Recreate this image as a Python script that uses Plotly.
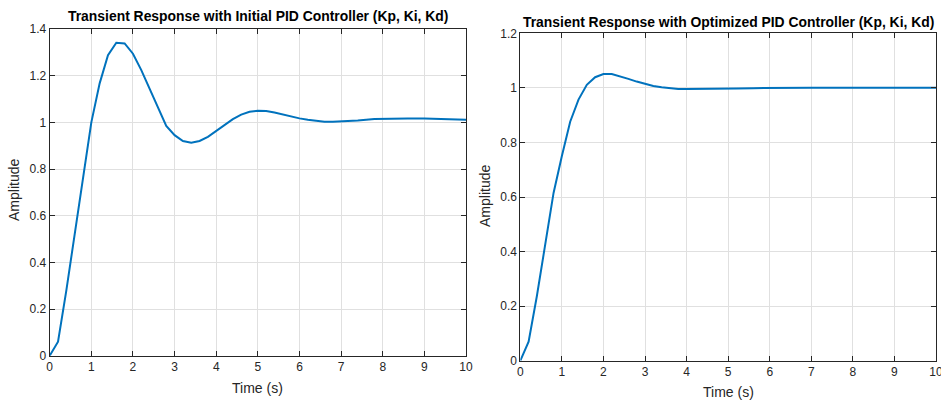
import plotly.graph_objects as go

# ---- data ----
t_initial = [0, 0.2, 0.4, 0.6, 0.8, 1.0, 1.2, 1.4, 1.6, 1.8, 2.0, 2.2, 2.4, 2.6, 2.8, 3.0,
             3.2, 3.4, 3.6, 3.8, 4.0, 4.2, 4.4, 4.6, 4.8, 5.0, 5.2, 5.4, 5.6, 5.8, 6.0,
             6.2, 6.4, 6.6, 6.8, 7.0, 7.4, 7.8, 8.2, 8.6, 9.0, 9.4, 9.8, 10.0]
y_initial = [0, 0.06, 0.28, 0.51, 0.76, 1.0, 1.167, 1.288, 1.341, 1.338, 1.294, 1.224, 1.146, 1.062, 0.985, 0.945,
             0.920, 0.913, 0.920, 0.938, 0.963, 0.990, 1.014, 1.033, 1.045, 1.050, 1.049, 1.042, 1.033, 1.024, 1.017,
             1.011, 1.006, 1.003, 1.003, 1.004, 1.008, 1.014, 1.017, 1.017, 1.016, 1.014, 1.012, 1.011]

t_optimized = [0, 0.2, 0.4, 0.6, 0.8, 1.0, 1.2, 1.4, 1.6, 1.8, 2.0, 2.2, 2.4, 2.6, 2.8, 3.0,
               3.2, 3.4, 3.6, 3.8, 4.0, 4.4, 4.8, 5.2, 5.6, 6.0, 7.0, 8.0, 9.0, 10.0]
y_optimized = [0, 0.07, 0.238, 0.422, 0.615, 0.75, 0.876, 0.957, 1.011, 1.039, 1.051, 1.051, 1.043, 1.033, 1.023, 1.014,
               1.007, 1.002, 0.998, 0.996, 0.996, 0.996, 0.997, 0.998, 0.999, 1.0, 1.0, 1.0, 1.0, 1.0]

x_ticks = list(range(0, 11))
titles = ["Transient Response with Initial PID Controller (Kp, Ki, Kd)",
          "Transient Response with Optimized PID Controller (Kp, Ki, Kd)"]
x_label = "Time (s)"
y_label = "Amplitude"

FONT = "Liberation Sans, Arial, sans-serif"
LINE = "#0072BD"
AX = "#262626"
GRID = "#E0E0E0"

fig = go.Figure()
fig.add_trace(go.Scatter(x=t_initial, y=y_initial, mode="lines",
                         line=dict(color=LINE, width=2), xaxis="x", yaxis="y", showlegend=False))
fig.add_trace(go.Scatter(x=t_optimized, y=y_optimized, mode="lines",
                         line=dict(color=LINE, width=2), xaxis="x2", yaxis="y2", showlegend=False))

W, H = 941, 400
def ax_common():
    return dict(showline=True, linecolor=AX, linewidth=1, mirror="ticks",
                ticks="inside", ticklen=5, tickcolor=AX, tickwidth=1,
                showgrid=True, gridcolor=GRID, gridwidth=1, zeroline=False,
                automargin=False, ticklabeloverflow="allow",
                tickfont=dict(family=FONT, size=12, color=AX))

l_x0, l_x1, l_ytop, l_ybot = 49.7, 466, 29, 355.7
r_x0, r_x1, r_ytop, r_ybot = 520.3, 936, 33.3, 360.7

fig.update_layout(
    width=W, height=H, margin=dict(l=0, r=0, t=0, b=0, autoexpand=False),
    paper_bgcolor="white", plot_bgcolor="white",
    xaxis=dict(domain=[l_x0 / W, l_x1 / W], range=[0, 10], tickvals=x_ticks, anchor="y", **ax_common()),
    yaxis=dict(domain=[1 - l_ybot / H, 1 - l_ytop / H], range=[0, 1.4], dtick=0.2, anchor="x", **ax_common()),
    xaxis2=dict(domain=[r_x0 / W, r_x1 / W], range=[0, 10], tickvals=x_ticks, anchor="y2", **ax_common()),
    yaxis2=dict(domain=[1 - r_ybot / H, 1 - r_ytop / H], range=[0, 1.2], dtick=0.2, anchor="x2", **ax_common()),
)

ann = []
ann.append(dict(text="<b>" + titles[0] + "</b>", x=(l_x0 + l_x1) / 2 / W, y=1 - 16 / H,
                xref="paper", yref="paper", showarrow=False, xanchor="center", yanchor="middle",
                font=dict(family=FONT, size=13.9, color="black")))
ann.append(dict(text="<b>" + titles[1] + "</b>", x=(r_x0 + r_x1) / 2 / W, y=1 - 22 / H,
                xref="paper", yref="paper", showarrow=False, xanchor="center", yanchor="middle",
                font=dict(family=FONT, size=13.9, color="black")))
for cx, cy in [((l_x0 + l_x1) / 2, 388), ((r_x0 + r_x1) / 2, 392)]:
    ann.append(dict(text=x_label, x=cx / W, y=1 - cy / H, xref="paper", yref="paper",
                    showarrow=False, xanchor="center", yanchor="middle",
                    font=dict(family=FONT, size=14, color=AX)))
for cx, cy in [(14, 190), (485, 196)]:
    ann.append(dict(text=y_label, x=cx / W, y=1 - cy / H, xref="paper", yref="paper",
                    showarrow=False, xanchor="center", yanchor="middle", textangle=-90,
                    font=dict(family=FONT, size=14, color=AX)))
fig.update_layout(annotations=ann)

fig.write_html("out.html", config={"displayModeBar": False},
               post_script="document.body.style.margin='0';document.body.style.overflow='hidden';")
